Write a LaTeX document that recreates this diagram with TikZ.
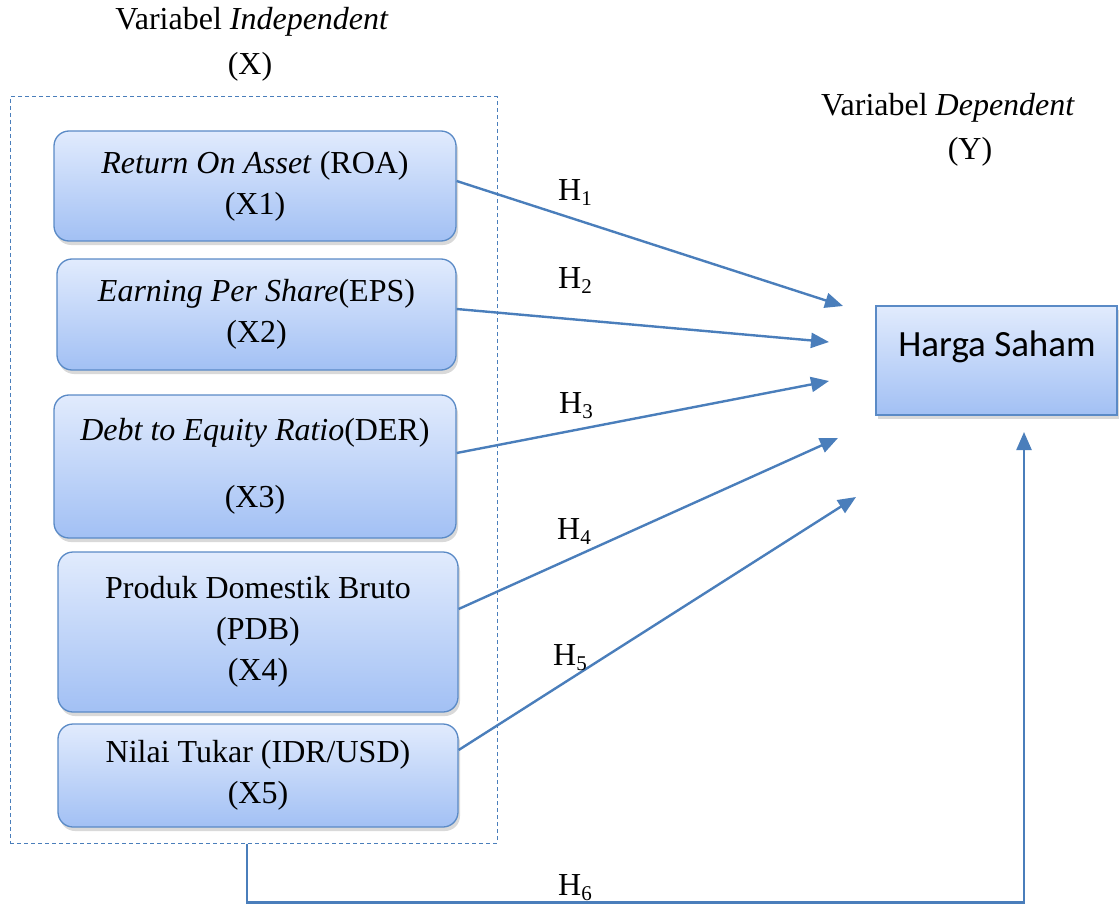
\documentclass[tikz,border=0pt]{standalone}
\usepackage{fontspec}
\setmainfont{Liberation Serif}
\newfontfamily\calibri{Carlito}
\usetikzlibrary{arrows.meta,shadows}
\definecolor{lineblue}{HTML}{4A7EBB}
\definecolor{boxtop}{HTML}{E1EBFD}
\definecolor{boxbot}{HTML}{A2C0F4}
\definecolor{boxedge}{HTML}{5A8AC6}
\newcommand{\hsub}[1]{H\raisebox{-5pt}{\fontsize{21}{21}\selectfont #1}}
\tikzset{
  varbox/.style={draw=boxedge, line width=1.3pt, rounded corners=15pt,
    top color=boxtop, bottom color=boxbot,
    drop shadow={shadow xshift=2pt, shadow yshift=-4pt, opacity=0.3},
    align=center, font=\fontsize{32}{41}\selectfont, inner sep=0pt},
  ybox/.style={draw=boxedge, line width=1.3pt,
    top color=boxtop, bottom color=boxbot,
    drop shadow={shadow xshift=2pt, shadow yshift=-4pt, opacity=0.3}, inner sep=0pt},
  link/.style={draw=lineblue, line width=2.4pt, -{Triangle[length=18pt,width=15pt]}},
  txt/.style={font=\fontsize{32}{36}\selectfont, inner sep=0pt},
  frame/.style={draw=lineblue, dashed, dash pattern=on 4pt off 3pt, line width=1pt, inner sep=0pt}
}
\begin{document}
\begin{tikzpicture}[x=1pt,y=-1pt]
\useasboundingbox (0,0) rectangle (1119,904);

% titles
\node[txt] (tx) at (252,22) {Variabel \textit{Independent}};
\node[txt] (tx2) at (250,67) {(X)};
\node[txt] (ty) at (948,108) {Variabel \textit{Dependent}};
\node[txt] (ty2) at (970,152) {(Y)};

% dashed frame
\node[frame, minimum width=487pt, minimum height=746pt] (frame) at (253.5,470) {};

% variable boxes
\node[varbox, minimum width=402pt, minimum height=110pt] (x1) at (255,186)
  {\textit{Return On Asset} (ROA)\\(X1)};
\node[varbox, minimum width=399pt, minimum height=111pt] (x2) at (256.5,314.5)
  {\textit{Earning Per Share}(EPS)\\(X2)};
\node[varbox, minimum width=402pt, minimum height=143pt] (x3) at (255,466.5)
  {\textit{Debt to Equity Ratio}(DER)\\[26pt](X3)};
\node[varbox, minimum width=400pt, minimum height=160pt] (x4) at (258,632)
  {Produk Domestik Bruto\\(PDB)\\(X4)};
\node[varbox, minimum width=400pt, minimum height=103pt] (x5) at (258,775.5)
  {Nilai Tukar (IDR/USD)\\(X5)};

% dependent box
\node[ybox, minimum width=241pt, minimum height=109pt] (y) at (996.5,360.5) {};
\node[inner sep=0pt, font=\calibri\fontsize{37}{44}\selectfont] (ylab) at (997,347) {Harga Saham};

% arrow end points
\coordinate (e1) at (843,306);
\coordinate (e2) at (829,342);
\coordinate (e3) at (829,381);
\coordinate (e4) at (838,438);
\coordinate (e5) at (856,497);
\coordinate (e6) at (1024,432);

\draw[link] ([yshift=5pt]x1.east) -- (e1);
\draw[link] ([yshift=5.5pt]x2.east) -- (e2);
\draw[link] ([yshift=13.5pt]x3.east) -- (e3);
\draw[link] ([yshift=23pt]x4.east) -- (e4);
\draw[link] ([yshift=25.5pt]x5.east) -- (e5);
\draw[link] ([xshift=-6.5pt]frame.south) -- ++(0,59) -| (e6);

% labels
\node[txt] (h1) at (575,193) {\hsub{1}};
\node[txt] (h2) at (575,281) {\hsub{2}};
\node[txt] (h3) at (576,406) {\hsub{3}};
\node[txt] (h4) at (574,532) {\hsub{4}};
\node[txt] (h5) at (570,658) {\hsub{5}};
\node[txt] (h6) at (575,888) {\hsub{6}};
\end{tikzpicture}
\end{document}
